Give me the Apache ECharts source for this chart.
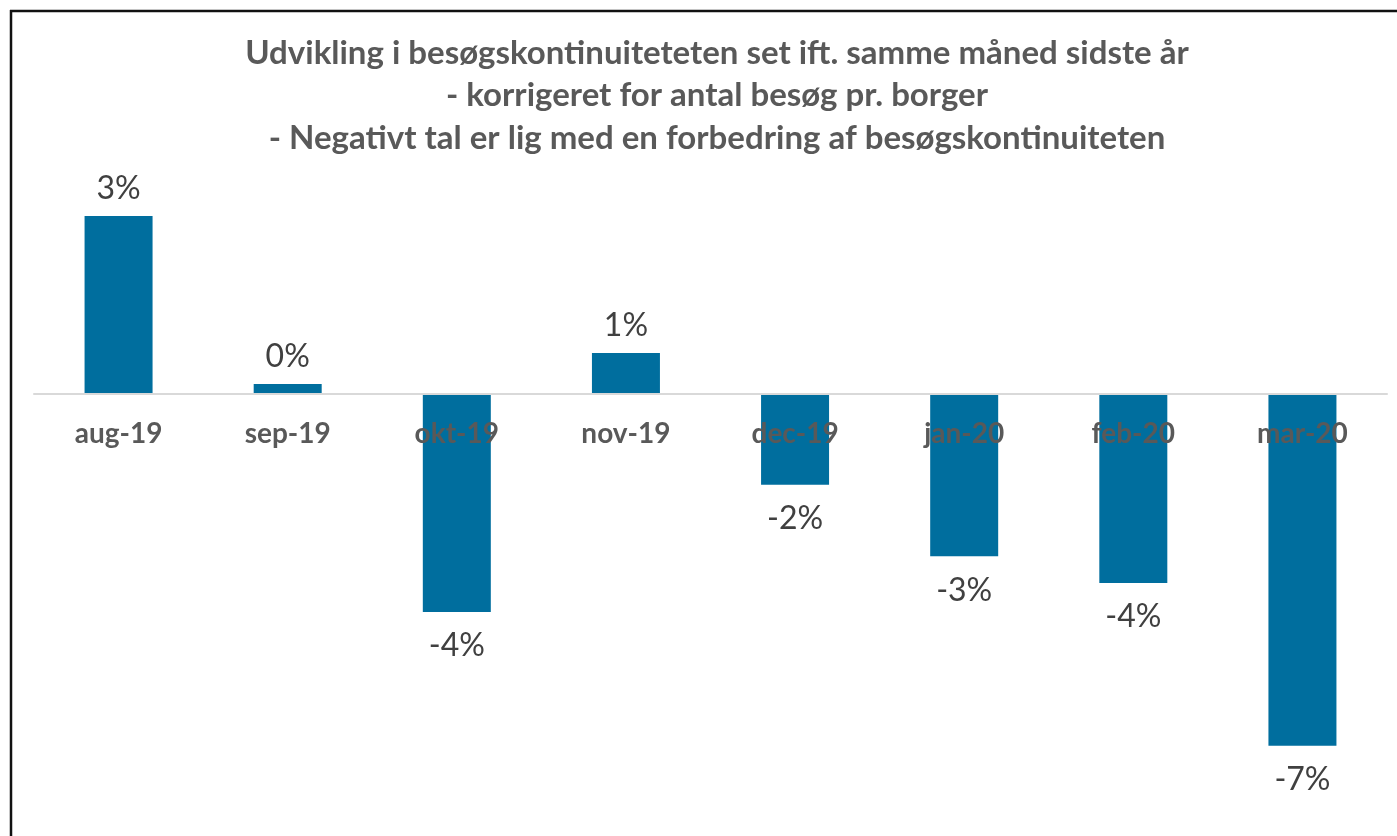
<!DOCTYPE html>
<html>
<head>
<meta charset="utf-8">
<script src="https://cdn.jsdelivr.net/npm/echarts@6/dist/echarts.min.js"></script>
<style>
    html, body { margin: 0; padding: 0; background: #fff; }
    #chart { width: 1397px; height: 836px; }
</style>
</head>
<body>
<div id="chart"></div>
<script>
var months = ['aug-19', 'sep-19', 'okt-19', 'nov-19', 'dec-19', 'jan-20', 'feb-20', 'mar-20'];
var udvikling = [3.39, 0.19, -4.15, 0.78, -1.73, -3.09, -3.6, -6.7];
var titel = 'Udvikling i besøgskontinuiteteten set ift. samme måned sidste år\n- korrigeret for antal besøg pr. borger\n- Negativt tal er lig med en forbedring af besøgskontinuiteten';

var myChart = echarts.init(document.getElementById('chart'));

var barData = udvikling.map(function (v) {
    return {
        value: v,
        label: v < 0 ? { position: 'bottom', distance: 18 } : { position: 'top', distance: 11 }
    };
});

// y range -8..4 over 630px, so zero sits 420px above the grid bottom
var option = {
    animation: false,
    title: {
        text: titel,
        left: 712,
        top: 27,
        textAlign: 'center',
        textStyle: {
            fontFamily: 'Lato',
            fontSize: 33,
            fontWeight: 'bold',
            color: '#595959',
            lineHeight: 42.5
        }
    },
    grid: {
        left: 34,
        right: 10,
        top: 184,
        bottom: 22,
        containLabel: false,
        outerBoundsMode: 'none'
    },
    xAxis: {
        type: 'category',
        data: months,
        z: 10,
        position: 'bottom',
        offset: -420,
        axisLine: { onZero: false, lineStyle: { color: '#d9d9d9', width: 2 } },
        axisTick: { show: false },
        axisLabel: {
            margin: 26,
            fontFamily: 'Lato',
            fontSize: 28,
            fontWeight: 'bold',
            color: '#595959'
        }
    },
    yAxis: {
        type: 'value',
        min: -8,
        max: 4,
        show: false,
        splitLine: { show: false }
    },
    series: [{
        type: 'bar',
        data: barData,
        barWidth: 68,
        itemStyle: { color: '#006E9E' },
        label: {
            show: true,
            fontFamily: 'Lato',
            fontSize: 32,
            color: '#404040',
            formatter: function (p) {
                return Math.round(p.value) + '%';
            }
        }
    }],
    graphic: [
        { type: 'line', shape: { x1: 10, y1: 11, x2: 1397, y2: 11 }, style: { stroke: '#111', lineWidth: 2.5 } },
        { type: 'line', shape: { x1: 11, y1: 10, x2: 11, y2: 836 }, style: { stroke: '#111', lineWidth: 2.5 } }
    ]
};

myChart.setOption(option);
</script>
</body>
</html>
